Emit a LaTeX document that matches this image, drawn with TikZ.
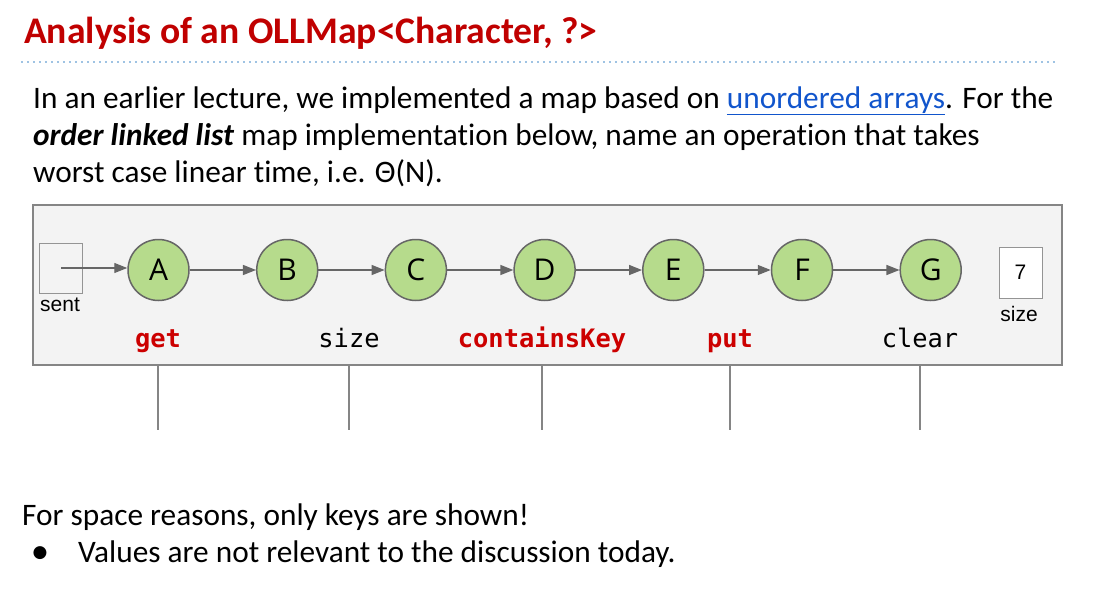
\documentclass[tikz,border=0pt]{standalone}
\usepackage{fontspec}
\setmainfont[Ligatures=NoCommon]{Carlito}
\newfontfamily\arialfont{Liberation Sans}
\newfontfamily\keyfont{Open Sans}
\newfontfamily\codefont{DejaVu Sans Mono}
\newfontfamily\symfont{DejaVu Sans}
\usetikzlibrary{arrows.meta}
\definecolor{titlered}{HTML}{C00000}
\definecolor{opred}{HTML}{CC0000}
\definecolor{linkblue}{HTML}{1155CC}
\definecolor{dotblue}{HTML}{3D85C6}
\definecolor{keygreen}{HTML}{B6DB8C}
\definecolor{linegray}{HTML}{666666}
\definecolor{panelgray}{HTML}{F3F3F3}

\begin{document}
\begin{tikzpicture}[x=1pt, y=-1pt,
    txt/.style={anchor=base west, inner sep=0pt, font=\fontsize{31.3}{31.3}\selectfont},
    key/.style={circle, draw=linegray, line width=1.5pt, fill=keygreen, minimum size=61pt, inner sep=0pt, font=\keyfont\fontsize{30}{30}\selectfont},
    link/.style={-{Triangle[length=13pt,width=10pt]}, line width=1.3pt, draw=linegray},
    cell/.style={draw=linegray!70, line width=1pt, inner sep=0pt},
    small/.style={anchor=base, inner sep=0pt, font=\arialfont\fontsize{21}{21}\selectfont},
    op/.style={anchor=base, inner sep=0pt, font=\codefont\fontsize{25.4}{25.4}\selectfont},
    hot/.style={op, text=opred, font=\codefont\bfseries\fontsize{25.4}{25.4}\selectfont},
    tick/.style={line width=1.3pt, draw=linegray!80}
]
\useasboundingbox (0,0) rectangle (1098,602);

\node[txt, text=titlered, font=\bfseries\fontsize{37.6}{37.6}\selectfont] (title) at (24,44) {Analysis of an OLLMap<Character, ?>};
\draw[dotblue, line width=1.6pt, dash pattern=on 0pt off 6pt, line cap=round] (22,62) -- (1057,62);

\node[txt] (line1) at (33,108) {In an earlier lecture, we implemented a map based on \textcolor{linkblue}{\underline{unordered arrays}}. For the};
\node[txt] (line2) at (33,145) {\textbf{\textit{order linked list}} map implementation below, name an operation that takes};
\node[txt] (line3) at (33,182) {worst case linear time, i.e. Θ(N).};

\node[draw=linegray!80, fill=panelgray, line width=1.5pt, minimum width=1029pt, minimum height=160pt, inner sep=0pt, anchor=north west] (panel) at (32,204) {};

\node[cell, minimum width=43pt, minimum height=50pt] (sent) at (61,268) {};
\node[small] (sentlbl) at (60,311) {sent};

\foreach \k [count=\i] in {A,B,C,D,E,F,G}
    \node[key] (\k) at ({158.5+128.7*(\i-1)},270) {\k};

\draw[link] (sent.center) -- (sent.center -| A.west);
\foreach \a/\b in {A/B,B/C,C/D,D/E,E/F,F/G}
    \draw[link] (\a) -- (\b);

\node[cell, fill=white, minimum width=43pt, minimum height=51pt, font=\arialfont\fontsize{21}{21}\selectfont] (count) at (1020.5,272.5) {7};
\node[small] (countlbl) at (1019,321) {size};

\node[hot] (get) at (158,347) {get};
\node[op] (size) at (349,347) {size};
\node[hot] (contains) at (542,347) {containsKey};
\node[hot] (put) at (730,347) {put};
\node[op] (clear) at (920,347) {clear};

\foreach \o in {get,size,contains,put,clear}
    \draw[tick] (\o |- panel.south) -- ++(0,64);

\node[txt] (note) at (22,525) {For space reasons, only keys are shown!};
\node[inner sep=0pt, font=\symfont\fontsize{17}{17}\selectfont] (dot) at (40,553) {●};
\node[txt] (values) at (78,562) {Values are not relevant to the discussion today.};
\end{tikzpicture}
\end{document}
